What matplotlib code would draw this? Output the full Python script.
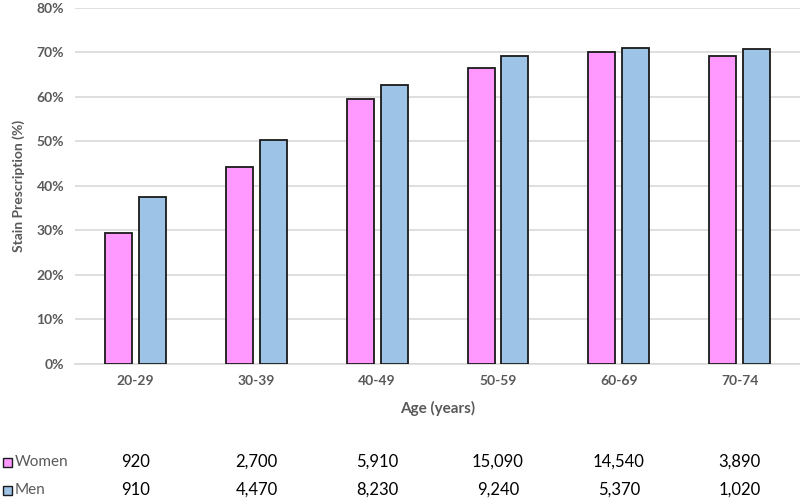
import matplotlib
matplotlib.use("Agg")
import matplotlib.pyplot as plt
import numpy as np
from matplotlib.patches import Rectangle

categories = ["20-29", "30-39", "40-49", "50-59", "60-69", "70-74"]
women_pct = [29.3, 44.3, 59.5, 66.5, 70.1, 69.1]
men_pct = [37.4, 50.3, 62.7, 69.1, 71.0, 70.7]
women_n = ["920", "2,700", "5,910", "15,090", "14,540", "3,890"]
men_n = ["910", "4,470", "8,230", "9,240", "5,370", "1,020"]
yticks = [0, 10, 20, 30, 40, 50, 60, 70, 80]

plt.rcParams['font.family'] = ['Lato', 'DejaVu Sans']
pink = "#FF99FF"
blue = "#9DC3E6"
gray = "#595959"

fig = plt.figure(figsize=(8, 4.98), dpi=100)
ax = fig.add_axes([0.094, 0.270, 0.906, 0.714])
x = np.arange(len(categories))
w = 0.223
off = 0.14
ax.bar(x - off, women_pct, w, color=pink, edgecolor="#1a1a1a", linewidth=1.3, zorder=3)
ax.bar(x + off, men_pct, w, color=blue, edgecolor="#1a1a1a", linewidth=1.3, zorder=3)
ax.set_xlim(-0.5, len(categories) - 0.5)
ax.set_ylim(0, 80)
ax.set_yticks(yticks)
ax.set_yticklabels([f"{t}%" for t in yticks], fontsize=10, fontweight="bold", color=gray)
ax.set_xticks(x)
ax.set_xticklabels(categories, fontsize=10, fontweight="bold", color=gray)
ax.tick_params(length=0, pad=8)
ax.yaxis.grid(True, color="#D9D9D9", linewidth=1.2, zorder=0)
for s in ["top", "right", "left"]:
    ax.spines[s].set_visible(False)
ax.spines["bottom"].set_color("#D9D9D9")
ax.spines["bottom"].set_linewidth(1.2)
ax.set_ylabel("Stain Prescription (%)", fontsize=10, fontweight="bold", color=gray, labelpad=8)
ax.set_xlabel("Age (years)", fontsize=11, fontweight="bold", color=gray, labelpad=10)

# data table below
trans = ax.get_xaxis_transform()
y_w = (498 - 462) / 498
y_m = (498 - 490) / 498
for i in range(len(categories)):
    xf = ax.transData.transform((x[i], 0))[0] / fig.bbox.width
    fig.text(xf, y_w, women_n[i], ha="center", va="center", fontsize=12, color="black")
    fig.text(xf, y_m, men_n[i], ha="center", va="center", fontsize=12, color="black")
for yy, lab, col in [(y_w, "Women", pink), (y_m, "Men", blue)]:
    fig.patches.append(Rectangle((3 / 800, yy - 5 / 498), 9 / 800, 9 / 498,
                                 transform=fig.transFigure, facecolor=col,
                                 edgecolor="#1a1a1a", linewidth=1))
    fig.text(15 / 800, yy, lab, ha="left", va="center", fontsize=11, color=gray)

fig.savefig("out.png", dpi=100)
